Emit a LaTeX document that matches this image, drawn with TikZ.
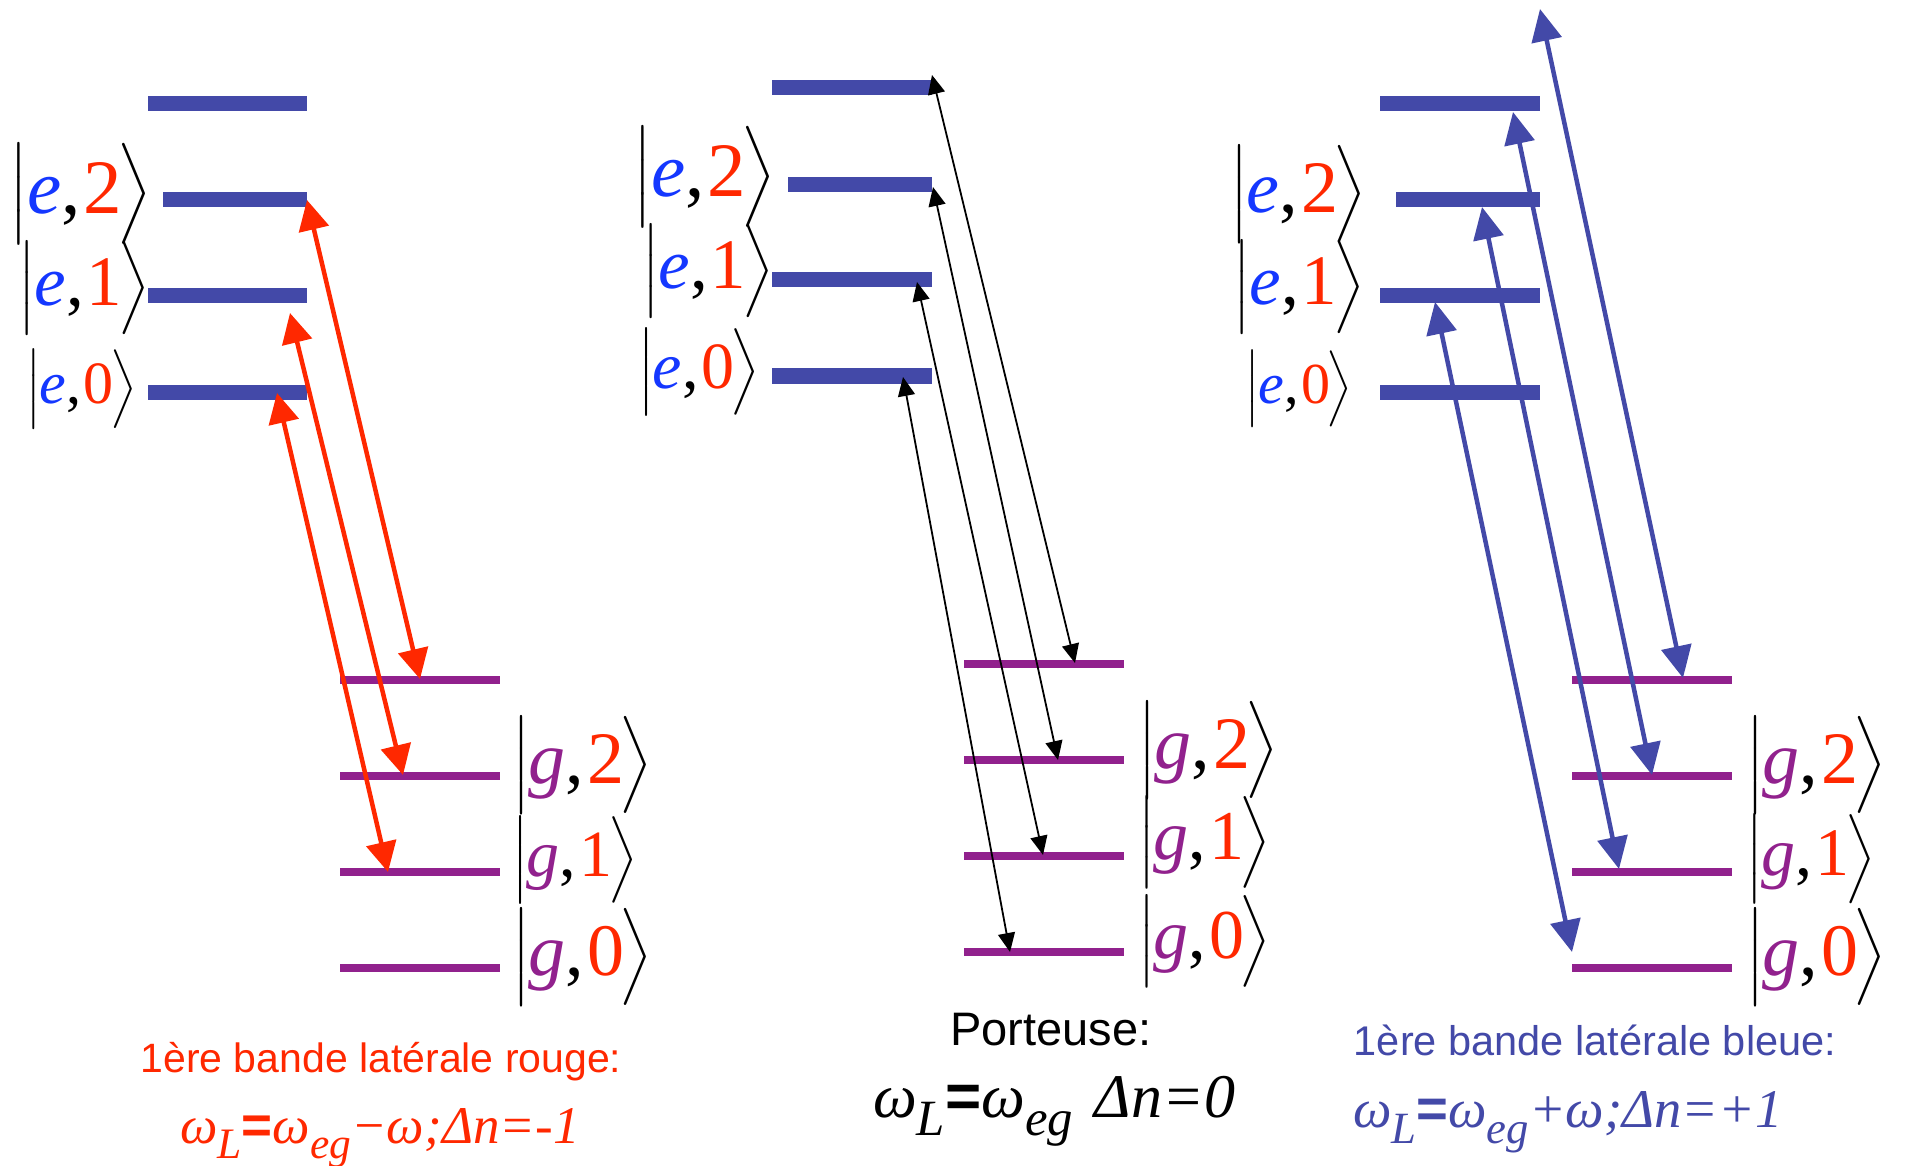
\documentclass[tikz,border=0pt]{standalone}
\usepackage{fontspec}
\setmainfont{Liberation Serif}
\newfontfamily\arialf{Liberation Sans}
\usepackage{graphicx}
\usetikzlibrary{arrows.meta}
\definecolor{levelblue}{HTML}{4349A8}
\definecolor{levelpurple}{HTML}{91218D}
\definecolor{arrowred}{HTML}{FF2800}
\definecolor{eblue}{HTML}{1437FF}
\definecolor{digitred}{HTML}{FF2800}
\newcommand{\delimsc}[1]{\raisebox{0.67pt}{\scalebox{0.73}{$#1$}}}
\newcommand{\ketlbl}[4]{\scalebox{#1}{\delimsc{\Bigl|}\hspace{-0.02em}\textcolor{#4}{\textit{#2}},\hspace{0.04em}\textcolor{digitred}{#3}\hspace{-0.06em}\delimsc{\Bigr\rangle}}}
\newcommand{\lowsub}[1]{\raisebox{-0.3em}{\scalebox{0.82}{#1}}}
\begin{document}
\begin{tikzpicture}[x=1pt,y=-1pt,
  exlevel/.style={draw=levelblue, line width=15pt},
  gdlevel/.style={draw=levelpurple, line width=8pt},
  redarr/.style={draw=arrowred, line width=4.5pt, >={Triangle[length=30pt,width=30pt]}, <->},
  bluearr/.style={draw=levelblue, line width=4.5pt, >={Triangle[length=32pt,width=30pt]}, <->},
  blkarr/.style={draw=black, line width=1.8pt, >={Triangle[length=19pt,width=17pt]}, <->},
  lbl/.style={inner sep=0pt},
  title/.style={inner sep=0pt, anchor=base},
  formula/.style={inner sep=0pt, anchor=base west},
]
\fill[white] (0,0) rectangle (1923,1166);
\useasboundingbox (0,0) rectangle (1923,1166);

% ---------- left panel: red sideband ----------
\draw[exlevel] (148,104) -- (307,104);
\draw[exlevel] (163,200) -- (307,200);
\draw[exlevel] (148,296) -- (307,296);
\draw[exlevel] (148,392) -- (307,392);
\draw[gdlevel] (340,680) -- (500,680);
\draw[gdlevel] (340,776) -- (500,776);
\draw[gdlevel] (340,872) -- (500,872);
\draw[gdlevel] (340,968) -- (500,968);
\node[lbl, anchor=east] (Le2) at (152,194) {\ketlbl{7.7}{e}{2}{eblue}};
\node[lbl, anchor=east] (Le1) at (150,288) {\ketlbl{7.1}{e}{1}{eblue}};
\node[lbl, anchor=east] (Le0) at (137,389) {\ketlbl{6.0}{e}{0}{eblue}};
\node[lbl, anchor=west] (Lg2) at (512,765) {\ketlbl{7.4}{g}{2}{levelpurple}};
\node[lbl, anchor=west] (Lg1) at (512,860) {\ketlbl{6.6}{g}{1}{levelpurple}};
\node[lbl, anchor=west] (Lg0) at (512,957) {\ketlbl{7.4}{g}{0}{levelpurple}};
\coordinate (RA1u) at (307,200); \coordinate (RA1d) at (420,679);
\coordinate (RA2u) at (290,313); \coordinate (RA2d) at (403,775);
\coordinate (RA3u) at (277,393); \coordinate (RA3d) at (388,872);
\draw[redarr] (RA1u) -- (RA1d);
\draw[redarr] (RA2u) -- (RA2d);
\draw[redarr] (RA3u) -- (RA3d);
\node[title, font=\arialf\fontsize{41}{48}\selectfont, text=arrowred] (tl) at (381,1072) {1ère bande latérale rouge:};
\node[formula, text=arrowred, font=\fontsize{53}{60}\selectfont\itshape] (fl) at (180,1143) {ω\lowsub{L}{\arialf\upshape\bfseries =}ω\lowsub{eg}−ω;Δn=-1};

% ---------- middle panel: carrier ----------
\draw[exlevel] (772,88) -- (932,88);
\draw[exlevel] (788,185) -- (932,185);
\draw[exlevel] (772,280) -- (932,280);
\draw[exlevel] (772,376) -- (932,376);
\draw[gdlevel] (964,664) -- (1124,664);
\draw[gdlevel] (964,760) -- (1124,760);
\draw[gdlevel] (964,856) -- (1124,856);
\draw[gdlevel] (964,952) -- (1124,952);
\node[lbl, anchor=east] (Me2) at (776,177) {\ketlbl{7.7}{e}{2}{eblue}};
\node[lbl, anchor=east] (Me1) at (774,271) {\ketlbl{7.1}{e}{1}{eblue}};
\node[lbl, anchor=east] (Me0) at (760,372) {\ketlbl{6.6}{e}{0}{eblue}};
\node[lbl, anchor=west] (Mg2) at (1138,750) {\ketlbl{7.4}{g}{2}{levelpurple}};
\node[lbl, anchor=west] (Mg1) at (1138,842) {\ketlbl{7.0}{g}{1}{levelpurple}};
\node[lbl, anchor=west] (Mg0) at (1138,941) {\ketlbl{7.0}{g}{0}{levelpurple}};
\coordinate (KA1u) at (932,75);  \coordinate (KA1d) at (1075,663);
\coordinate (KA2u) at (933,187); \coordinate (KA2d) at (1058,760);
\coordinate (KA3u) at (917,282); \coordinate (KA3d) at (1043,855);
\coordinate (KA4u) at (903,377); \coordinate (KA4d) at (1010,952);
\draw[blkarr] (KA1u) -- (KA1d);
\draw[blkarr] (KA2u) -- (KA2d);
\draw[blkarr] (KA3u) -- (KA3d);
\draw[blkarr] (KA4u) -- (KA4d);
\node[title, font=\arialf\fontsize{47}{54}\selectfont, text=black] (tm) at (1051,1045) {Porteuse:};
\node[formula, text=black, font=\fontsize{62}{70}\selectfont\itshape] (fm) at (873,1117) {ω\lowsub{L}{\arialf\upshape\bfseries =}ω\lowsub{eg}\hspace{0.35em}Δn=0};

% ---------- right panel: blue sideband ----------
\draw[exlevel] (1380,104) -- (1540,104);
\draw[exlevel] (1396,200) -- (1540,200);
\draw[exlevel] (1380,296) -- (1540,296);
\draw[exlevel] (1380,392) -- (1540,392);
\draw[gdlevel] (1572,680) -- (1732,680);
\draw[gdlevel] (1572,776) -- (1732,776);
\draw[gdlevel] (1572,872) -- (1732,872);
\draw[gdlevel] (1572,968) -- (1732,968);
\node[lbl, anchor=east] (Re2) at (1367,194) {\ketlbl{7.4}{e}{2}{eblue}};
\node[lbl, anchor=east] (Re1) at (1365,287) {\ketlbl{7.1}{e}{1}{eblue}};
\node[lbl, anchor=east] (Re0) at (1353,389) {\ketlbl{5.8}{e}{0}{eblue}};
\node[lbl, anchor=west] (Rg2) at (1746,765) {\ketlbl{7.4}{g}{2}{levelpurple}};
\node[lbl, anchor=west] (Rg1) at (1746,859) {\ketlbl{6.8}{g}{1}{levelpurple}};
\node[lbl, anchor=west] (Rg0) at (1746,957) {\ketlbl{7.4}{g}{0}{levelpurple}};
\coordinate (BA1u) at (1540,9);   \coordinate (BA1d) at (1683,678);
\coordinate (BA2u) at (1513,112); \coordinate (BA2d) at (1652,775);
\coordinate (BA3u) at (1482,207); \coordinate (BA3d) at (1619,869);
\coordinate (BA4u) at (1435,302); \coordinate (BA4d) at (1572,952);
\draw[bluearr] (BA1u) -- (BA1d);
\draw[bluearr] (BA2u) -- (BA2d);
\draw[bluearr] (BA3u) -- (BA3d);
\draw[bluearr] (BA4u) -- (BA4d);
\node[title, font=\arialf\fontsize{41.5}{48}\selectfont, text=levelblue] (tr) at (1595,1055) {1ère bande latérale bleue:};
\node[formula, text=levelblue, font=\fontsize{54.5}{60}\selectfont\itshape] (fr) at (1353,1127) {ω\lowsub{L}{\arialf\upshape\bfseries =}ω\lowsub{eg}+ω;Δn=+1};
\end{tikzpicture}
\end{document}
